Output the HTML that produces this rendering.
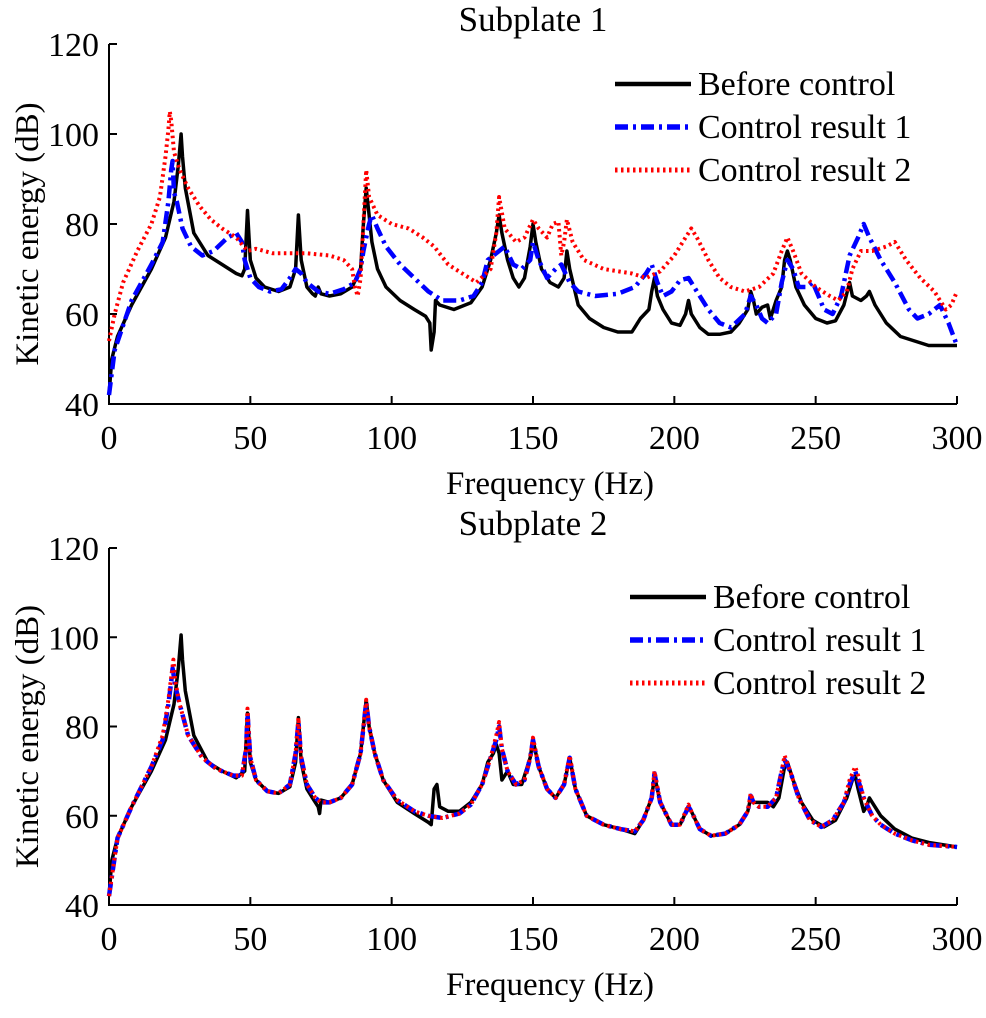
<!DOCTYPE html>
<html><head><meta charset="utf-8"><style>
body{margin:0;background:#fff;}
svg{display:block;font-family:"Liberation Serif",serif;}
</style></head><body>
<svg id="chart" width="986" height="1018"></svg>
<script>
const xTicks=[0,50,100,150,200,250,300];
const yTicks=[40,60,80,100,120];
const seriesNames=["Before control","Control result 1","Control result 2"];
const top_before=[[0,42],[1,50],[3,55],[8,62],[15,70],[20,77],[23,85],[24.5,93],[25.5,100],[26,95],[27,88],[30,78],[35,73],[40,71],[45,69],[47,68.5],[48,70],[49,83],[50,72],[52,68],[55,66],[60,65],[64,66],[66,70],[67,82],[68,72],[70,66],[72,64.5],[73,64],[74,66],[75,64.5],[78,64],[82,64.5],[86,66],[89,70],[90,80],[91,88],[92,82],[93,76],[95,70],[98,66],[103,63],[108,61],[112,59.5],[113.5,58],[114,52],[115,56],[115.5,63],[117,62],[122,61],[128,62.5],[132,66],[135,72],[137,78],[138,82],[139,78],[141,72],[143,68],[145,66],[147,68],[149,75],[150,80],[151,76],[153,70],[156,67],[159,66],[161,68],[162,74],[163,70],[166,62],[170,59],[175,57],[180,56],[185,56],[188,59],[191,61],[192,65],[193,68],[194,64],[196,61],[199,58],[202,57.5],[204,60],[205,63],[206,60],[209,57],[212,55.5],[216,55.5],[220,56],[223,58],[226,61],[227,65],[228,63],[229,60],[231,61.5],[233,62],[234,59],[236,63],[238,66],[239,72],[240,74],[241,72],[243,66],[246,62],[250,59],[254,58],[257,58.5],[260,62],[262,67],[263,64],[266,63],[268,64],[269,65],[271,62],[275,58],[280,55],[285,54],[290,53],[300,53]];
const top_result1=[[0,42],[2,52],[8,63],[15,71],[19,76],[21,85],[22,92],[22.5,94],[23,87],[24,85],[26,79],[29,75],[33,73],[37,74],[42,77],[45,78],[47,76],[48,72],[50,68],[53,66],[57,65],[61,65.5],[64,68],[66,70],[68,69],[70,67],[74,65],[78,64.5],[83,65.5],[87,67],[89,70],[90,74],[92,80],[93,82],[95,79],[98,75],[103,71],[108,68],[113,65],[118,63],[124,63],[129,64],[132,67],[134,72],[136,73],[138,74],[140,75],[143,71],[146,70],[149,72],[150,76],[152,72],[155,68],[158,70],[160,71],[163,67],[166,65],[172,64],[180,64.5],[186,66],[190,69],[192,71],[194,67],[196,64],[199,65],[202,67.5],[205,68],[208,65],[212,61],[216,58],[220,57],[225,60],[227,64],[229,62],[231,59],[233,58],[236,60],[238,67],[240,72],[242,70],[244,66],[247,66],[249,67],[251,64],[253,61],[256,60],[259,64],[262,73],[265,77],[267,80],[269,77],[273,72],[278,67],[283,61],[286,59],[290,60],[294,62],[297,58],[300,53]];
const top_result2=[[0,54],[2,60],[5,67],[10,74],[15,80],[18,86],[20,95],[21,101],[21.5,105],[22,103],[23,96],[25,92],[28,88],[32,84],[36,81],[40,79],[45,77],[49,74],[52,74.5],[58,73.5],[65,73.5],[70,73.5],[78,73],[83,72],[86,70],[87,66],[88,64],[89,68],[90,80],[91,92],[92,86],[95,82],[100,80],[106,79],[111,77],[115,75],[120,71],[125,69],[130,67],[135,70],[137,78],[138,86],[140,79],[144,76],[147,77],[150,81],[152,79],[155,77],[157,80],[159,80.5],[160,73],[161,76],[162,81],[164,76],[168,72],[175,70],[185,69],[190,68],[195,69.5],[200,73],[204,77],[206,79],[208,77],[212,72],[216,68],[220,66],[225,65],[230,66],[235,69],[238,74],[240,77],[242,74],[245,69],[250,66],[255,64],[258,63],[261,65],[263,70],[266,74],[270,74],[275,75],[278,76],[282,72],[287,68],[292,65],[296,61],[298,62],[300,65]];
const bot_before=[[0,42],[1,50],[3,55],[8,62],[15,70],[20,77],[23,85],[24.5,93],[25.5,100.5],[26,95],[27,88],[30,78],[35,72],[40,70],[45,68.5],[48,70],[49,83],[50,72],[52,68],[56,65.5],[60,65],[64,66.5],[66,72],[67,82],[68,72],[70,66],[72,64],[74,62],[74.5,60.5],[75,63.5],[78,63],[82,64],[86,67],[89,74],[91,86],[92,80],[94,74],[97,68],[102,63],[108,60.5],[113,58.5],[114,58],[115,66],[116,67],[117,62],[120,61],[124,61],[128,63],[132,67],[134,72],[136,74],[137,76],[138,74],[139,68],[141,70],[143,67],[146,67],[149,73],[150,77],[152,71],[155,66],[158,64],[161,67],[163,73],[165,66],[169,60],[175,58],[181,57],[186,56],[189,59],[192,64],[193,69],[195,63],[199,58],[202,58],[205,62],[206,61],[209,57],[213,55.5],[218,56],[223,58],[226,61],[227,64],[228,63],[230,63],[233,63],[235,62],[237,64],[239,71],[240,72],[242,68],[245,63],[249,59],[253,57.5],[257,59],[261,64],[263,68],[264,69],[265,66],[267,61],[268,62],[269,64],[270,63],[273,60],[278,57],[284,55],[290,54],[300,53]];
const bot_result1=[[0,42],[3,55],[8,62],[15,71],[19,77],[21,85],[22,90],[22.5,93],[23.5,89],[25,85],[28,78],[33,73],[38,70.5],[44,69],[47,69],[48.5,75],[49,83],[50,73],[52,68],[56,65.5],[60,65],[64,67],[66,74],[67,81],[68,73],[70,67],[73,64],[75,63],[78,63],[82,64],[86,67],[89,74],[91,85.5],[92,80],[94,74],[97,68],[102,63.5],[108,61],[113,60],[118,59.5],[124,60.5],[128,62.5],[132,67],[135,73],[137,77],[138,80],[139,75],[141,70],[144,67],[147,68],[149,73],[150,77],[152,71],[155,66],[158,64],[161,67],[163,73],[165,66],[169,60],[175,58],[181,57],[186,56.5],[189,59],[192,64],[193,69.5],[195,63],[199,58],[202,58],[205,62],[206,61],[209,57],[213,55.5],[218,56],[223,58],[226,61],[227,64.5],[228,63],[230,62],[233,62],[236,64],[238,70],[239,72.5],[241,70],[244,64],[248,59],[252,57.5],[256,59],[260,63],[262,67],[264,70],[265,68],[267,64],[270,60],[273,58],[278,56],[284,54.5],[290,53.5],[300,53]];
const bot_result2=[[0,42],[3,55],[8,62],[15,71],[19,78],[21,86],[22,91],[22.8,95],[23.5,90],[25,85],[28,78],[33,73],[38,70.5],[44,69],[47,69],[48.5,75],[49,84],[50,73],[52,68],[56,65.5],[60,65],[64,67],[66,74],[67,82],[68,73],[70,67],[73,64],[75,63],[78,63],[82,64],[86,67],[89,74],[91,86],[92,80],[94,74],[97,68],[102,63.5],[108,61],[113,60],[118,59.5],[124,60.5],[128,62.5],[132,67],[135,73],[137,78],[138,81],[139,75],[141,70],[144,67],[147,68],[149,73],[150,77.5],[152,71],[155,66],[158,64],[161,67],[163,73.5],[165,66],[169,60],[175,58],[181,57],[186,56.5],[189,59],[192,64],[193,70],[195,63],[199,58],[202,58],[205,62.5],[206,61],[209,57],[213,55.5],[218,56],[223,58],[226,61],[227,65],[228,63],[230,62],[233,62],[236,64],[238,70],[239,73.5],[241,70],[244,64],[248,59],[252,57.5],[256,59],[260,63],[262,68],[264,71],[265,69],[267,64],[270,60],[273,58],[278,56],[284,54.5],[290,53.5],[300,53]];

const NS="http://www.w3.org/2000/svg";
const svg=document.getElementById('chart');
function mk(tag,attrs,parent){const e=document.createElementNS(NS,tag);for(const k in attrs)e.setAttribute(k,attrs[k]);(parent||svg).appendChild(e);return e;}
const styles=[
 {stroke:"#000",w:3.5,dash:null},
 {stroke:"#0000ff",w:4.5,dash:"13 5 3 5"},
 {stroke:"#ff0000",w:4,dash:"2.5 3.5"}];
function panel(idx,yTop,yBot,title,data,legY,legX){
  const x0=109,x1=957;
  const sx=v=>x0+(v-0)/300*(x1-x0);
  const sy=v=>yBot-(v-40)/80*(yBot-yTop);
  const g=mk('g',{});
  
  
  const t=mk('text',{x:533,y:yTop-13,'font-size':35,'text-anchor':'middle'},g);t.textContent=title;
  
  
  const ax=mk('path',{d:`M${x0},${yTop} V${yBot} H${x1}`,stroke:'#000','stroke-width':2,fill:'none'},g);
  
  
  xTicks.forEach(v=>{
    mk('line',{x1:sx(v),x2:sx(v),y1:yBot,y2:yBot-8,stroke:'#000','stroke-width':2},g);
    const l=mk('text',{x:sx(v),y:yBot+45,'font-size':34,'text-anchor':'middle'},g);l.textContent=v;
    
    
  });
  yTicks.forEach(v=>{
    mk('line',{x1:x0,x2:x0+8,y1:sy(v),y2:sy(v),stroke:'#000','stroke-width':2},g);
    const l=mk('text',{x:x0-10,y:sy(v)+12,'font-size':34,'text-anchor':'end'},g);l.textContent=v;
    
    
  });
  const xl=mk('text',{x:550,y:yBot+90,'font-size':33,'text-anchor':'middle'},g);xl.textContent='Frequency (Hz)';
  
  
  const cy=(yTop+yBot)/2+10;
  const yl=mk('text',{x:0,y:0,'font-size':33,'text-anchor':'middle',transform:`translate(38,${cy}) rotate(-90)`},g);yl.textContent='Kinetic energy (dB)';
  
  
  data.forEach((d,i)=>{
    const s=styles[i];
    const p=mk('path',{d:d.map((pt,j)=>(j?'L':'M')+sx(pt[0]).toFixed(1)+','+sy(pt[1]).toFixed(1)).join(' '),fill:'none',stroke:s.stroke,'stroke-width':s.w,'stroke-linejoin':'round'},g);
    if(s.dash)p.setAttribute('stroke-dasharray',s.dash);
    
    
  });
  data.forEach((d,i)=>{
    const s=styles[i];const y=legY+i*43;
    const ln=mk('line',{x1:legX,x2:legX+76,y1:y,y2:y,stroke:s.stroke,'stroke-width':s.w+1},g);
    if(s.dash)ln.setAttribute('stroke-dasharray',s.dash);
    
    
    const tx=mk('text',{x:legX+83,y:y+11,'font-size':34},g);tx.textContent=seriesNames[i];
    
    
  });
}
panel(1,44,404,'Subplate 1',[top_before,top_result1,top_result2],84,615);
panel(2,548,905,'Subplate 2',[bot_before,bot_result1,bot_result2],597,630);
</script>
</body></html>
